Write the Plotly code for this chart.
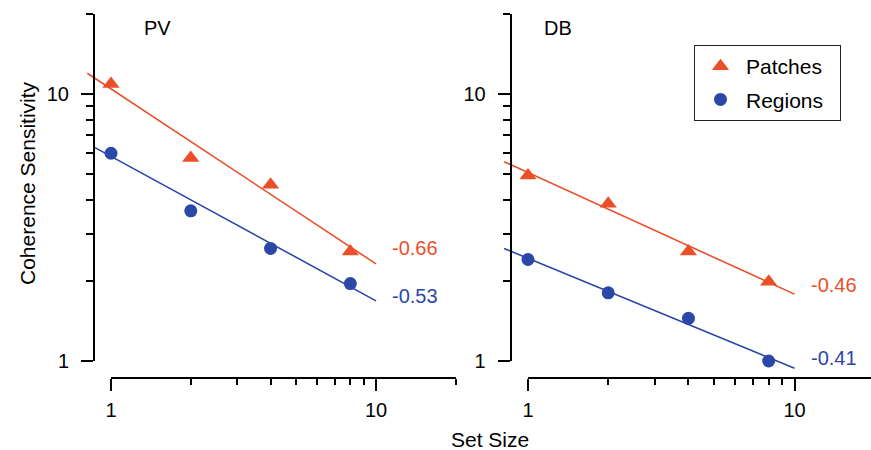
import plotly.graph_objects as go
import math

# ---------------- data ----------------
set_size = [1, 2, 4, 8]
series_names = ["Patches", "Regions"]

pv_patches = [10.9, 5.76, 4.57, 2.57]
pv_regions = [6.0, 3.65, 2.64, 1.95]
db_patches = [4.95, 3.88, 2.57, 1.98]
db_regions = [2.40, 1.80, 1.445, 1.0]

# fitted power-law lines (end points)
pv_patches_fit_x = [0.814, 10]
pv_patches_fit_y = [11.96, 2.31]
pv_regions_fit_x = [0.87, 10]
pv_regions_fit_y = [6.30, 1.68]
db_patches_fit_x = [0.813, 10]
db_patches_fit_y = [5.58, 1.78]
db_regions_fit_x = [0.813, 10]
db_regions_fit_y = [2.64, 0.939]

slope_labels = ["-0.66", "-0.53", "-0.46", "-0.41"]
slope_label_y = [2.65, 1.75, 1.93, 1.026]

panel_titles = ["PV", "DB"]
x_tick_vals = [1, 10]
x_tick_text = ["1", "10"]
x_minor_vals = [2, 3, 4, 5, 6, 7, 8, 9, 20]
y_tick_vals = [1, 10]
y_tick_text = ["1", "10"]
y_minor_vals = [2, 3, 4, 5, 6, 7, 8, 9, 20]

ORANGE = "#E9502A"
BLUE = "#2B47A7"
FONT = "Liberation Sans, Arial, sans-serif"
W, H = 871, 450
PAD = "\u00a0\u00a0"


def fx(px):
    return px / W


def fy(py):
    return 1 - py / H


# pixel geometry
XDEC_L, X1_L = 265.0, 111.0
XDEC_R, X1_R = 266.5, 528.0
YDEC, Y1 = 267.0, 361.0
LOG20 = math.log10(20)

fig = go.Figure()


def add_panel(xa, ya, patches, regions, pfx, pfy, rfx, rfy, show):
    fig.add_trace(go.Scatter(x=pfx, y=pfy, mode="lines", line=dict(color=ORANGE, width=1.6),
                             xaxis=xa, yaxis=ya, showlegend=False, hoverinfo="skip"))
    fig.add_trace(go.Scatter(x=rfx, y=rfy, mode="lines", line=dict(color=BLUE, width=1.6),
                             xaxis=xa, yaxis=ya, showlegend=False, hoverinfo="skip"))
    fig.add_trace(go.Scatter(x=set_size, y=patches, mode="markers", name=series_names[0] + PAD,
                             marker=dict(symbol="triangle-up", size=15, color=ORANGE),
                             xaxis=xa, yaxis=ya, showlegend=show, legendgroup="p", cliponaxis=False))
    fig.add_trace(go.Scatter(x=set_size, y=regions, mode="markers", name=series_names[1] + PAD,
                             marker=dict(symbol="circle", size=13, color=BLUE),
                             xaxis=xa, yaxis=ya, showlegend=show, legendgroup="r", cliponaxis=False))


add_panel("x", "y", pv_patches, pv_regions, pv_patches_fit_x, pv_patches_fit_y,
          pv_regions_fit_x, pv_regions_fit_y, True)
add_panel("x2", "y2", db_patches, db_regions, db_patches_fit_x, db_patches_fit_y,
          db_regions_fit_x, db_regions_fit_y, False)

# invisible traces so the decorative axes get drawn
for xa, ya in (("x3", "y3"), ("x4", "y4")):
    fig.add_trace(go.Scatter(x=[1], y=[1], mode="markers", marker=dict(opacity=0),
                             xaxis=xa, yaxis=ya, showlegend=False, hoverinfo="skip"))

hidden = dict(type="log", visible=False, showgrid=False, zeroline=False, fixedrange=True,
              automargin=False)

dL0, dL1 = 40, 470
dR0, dR1 = 480, 871
dY0, dY1 = 400, 5
layout_axes = dict(
    xaxis=dict(hidden, domain=[fx(dL0), fx(dL1)],
               range=[(dL0 - X1_L) / XDEC_L, (dL1 - X1_L) / XDEC_L], anchor="y"),
    xaxis2=dict(hidden, domain=[fx(dR0), fx(dR1)],
                range=[(dR0 - X1_R) / XDEC_R, (dR1 - X1_R) / XDEC_R], anchor="y2"),
    yaxis=dict(hidden, domain=[fy(dY0), fy(dY1)],
               range=[(Y1 - dY0) / YDEC, (Y1 - dY1) / YDEC], anchor="x"),
    yaxis2=dict(hidden, domain=[fy(dY0), fy(dY1)],
                range=[(Y1 - dY0) / YDEC, (Y1 - dY1) / YDEC], anchor="x2"),
)

tickfont = dict(family=FONT, size=20, color="black")
xdecor = dict(type="log", showline=True, linecolor="black", linewidth=2, ticks="outside",
              ticklen=12, tickwidth=2, tickcolor="black", showgrid=False, zeroline=False,
              tickvals=x_tick_vals, ticktext=x_tick_text, tickfont=tickfont,
              ticklabelstandoff=2,
              minor=dict(tickvals=x_minor_vals, ticks="outside", ticklen=6, tickwidth=2,
                         tickcolor="black", showgrid=False),
              anchor="free", fixedrange=True, automargin=False)
ydecor = dict(type="log", showline=True, linecolor="black", linewidth=2, ticks="outside",
              ticklen=12, tickwidth=2, tickcolor="black", showgrid=False, zeroline=False,
              tickvals=y_tick_vals, ticktext=y_tick_text, tickfont=tickfont,
              ticklabelstandoff=8,
              minor=dict(tickvals=y_minor_vals, ticks="outside", ticklen=7, tickwidth=2,
                         tickcolor="black", showgrid=False),
              anchor="free", fixedrange=True, automargin=False)

y_top_px = Y1 - YDEC * LOG20
layout_axes.update(
    xaxis3=dict(xdecor, domain=[fx(X1_L), fx(X1_L + XDEC_L * LOG20)], range=[0, LOG20],
                position=fy(378)),
    xaxis4=dict(xdecor, domain=[fx(X1_R), 1.0], range=[0, (W - X1_R) / XDEC_R],
                position=fy(378)),
    yaxis3=dict(ydecor, domain=[fy(Y1), fy(y_top_px)], range=[0, LOG20], position=fx(94)),
    yaxis4=dict(ydecor, domain=[fy(Y1), fy(y_top_px)], range=[0, LOG20], position=fx(510.7)),
)

annotations = []
lab_axes = [("x", "y", ORANGE), ("x", "y", BLUE), ("x2", "y2", ORANGE), ("x2", "y2", BLUE)]
for txt, yv, (xa, ya, col) in zip(slope_labels, slope_label_y, lab_axes):
    annotations.append(dict(x=math.log10(11.3), y=math.log10(yv), xref=xa, yref=ya, text=txt,
                            showarrow=False, xanchor="left", yanchor="middle",
                            font=dict(family=FONT, size=20, color=col)))
for txt, px in zip(panel_titles, (142, 542)):
    annotations.append(dict(x=fx(px), y=fy(28), xref="paper", yref="paper", text=txt,
                            showarrow=False, xanchor="left", yanchor="middle",
                            font=dict(family=FONT, size=20, color="black")))
annotations.append(dict(x=fx(490), y=fy(439), xref="paper", yref="paper", text="Set Size",
                        showarrow=False, xanchor="center", yanchor="middle",
                        font=dict(family=FONT, size=21, color="black")))
annotations.append(dict(x=fx(27), y=fy(183), xref="paper", yref="paper",
                        text="Coherence Sensitivity", textangle=-90,
                        showarrow=False, xanchor="center", yanchor="middle",
                        font=dict(family=FONT, size=21, color="black")))

fig.update_layout(
    template="none",
    width=W, height=H,
    margin=dict(l=0, r=0, t=0, b=0, pad=0, autoexpand=False),
    paper_bgcolor="white", plot_bgcolor="rgba(0,0,0,0)",
    showlegend=True,
    legend=dict(x=fx(694), y=fy(45), xanchor="left", yanchor="top",
                bordercolor="#222", borderwidth=1, bgcolor="white",
                font=dict(family=FONT, size=21, color="black"),
                itemwidth=41, tracegroupgap=3),
    annotations=annotations,
    **layout_axes,
)

fig.write_html("out.html", config={"displayModeBar": False},
               post_script="document.body.style.margin='0';")
